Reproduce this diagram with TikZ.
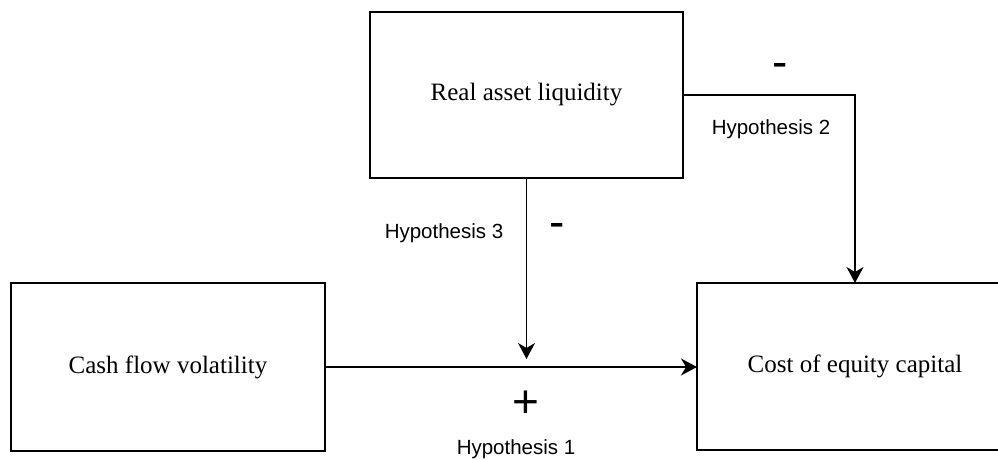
\documentclass[tikz,border=0pt]{standalone}
\usepackage{fontspec}
\setmainfont{Liberation Serif}
\newfontfamily\labelfont{Liberation Sans}
\usetikzlibrary{arrows.meta}
\begin{document}
\begin{tikzpicture}[x=1pt,y=-1pt,
  box/.style={draw=black, line width=1.6pt, rectangle, inner sep=0pt, outer sep=0pt,
    font=\fontsize{25}{30}\selectfont},
  conn/.style={draw=black, line width=1.6pt, -{Stealth[length=16pt,width=17pt,inset=5pt]}},
  hyp/.style={font=\labelfont\fontsize{20.5}{24}\selectfont, inner sep=0pt},
  sign/.style={font=\labelfont\fontsize{46}{50}\selectfont, inner sep=0pt}]
\useasboundingbox (0,0) rectangle (998,459);
\node[box, minimum width=313pt, minimum height=166pt] (ral) at (526.5,95) {Real asset liquidity};
\node[box, minimum width=314pt, minimum height=168pt] (cfv) at (168,367) {Cash flow volatility};
\node[box, minimum width=316pt, minimum height=167pt] (cec) at (855,366.5) {Cost of equity capital};
\coordinate (m) at (526.5,359);
\draw[conn] (cfv.east) -- (cfv.east -| cec.west);
\draw[conn] (ral.south) -- (m);
\draw[conn] (ral.east) -| (cec.north);
\node[sign] (s2) at (780,70) {-};
\node[hyp] (h2) at (771,129.5) {Hypothesis 2};
\node[hyp] (h3) at (444,233.5) {Hypothesis 3};
\node[sign] (s3) at (557.5,230) {-};
\node[sign] (s1) at (525.5,404) {+};
\node[hyp] (h1) at (516,449) {Hypothesis 1};
\end{tikzpicture}
\end{document}
